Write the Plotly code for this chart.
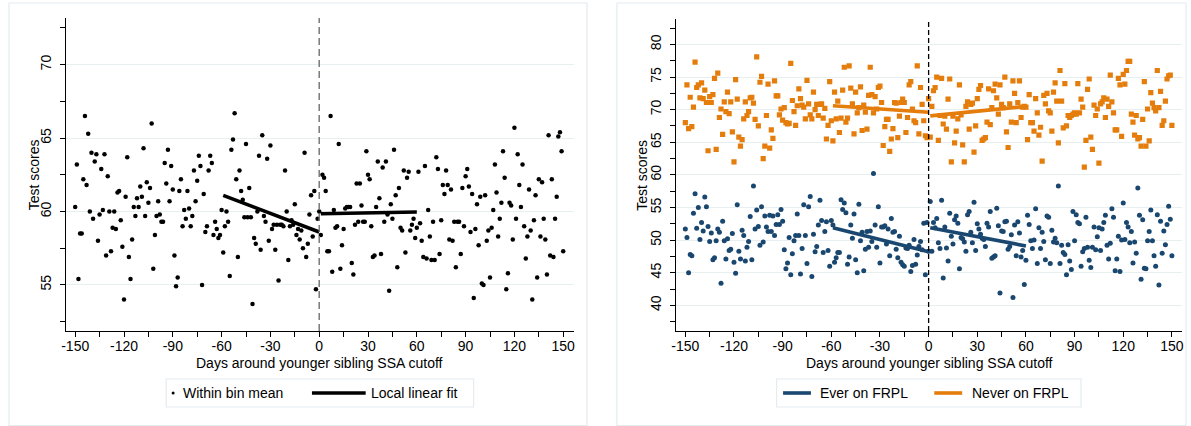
import plotly.graph_objects as go

W, H = 1191, 426
FONT = "Liberation Sans, Arial, Helvetica, sans-serif"
BLUE = "#1a476f"
ORANGE = "#e47d0b"
GRID = "#e8eff1"
FRAME = "#e4ecef"

# Bins: days relative to the younger sibling's SSA cutoff
days = list(range(-150, 151))

# All students: within-bin mean test score (days -150 .. 150)
bin_mean = [
    60.3, 63.2, 55.4, 58.5, 58.5, 62.2, 66.5, 61.8, 65.3, 60.0,
    64.0, 59.5, 63.4, 63.9, 58.0, 59.8, 62.9, 60.1, 63.9, 57.0,
    62.4, 60.0, 57.3, 58.9, 60.0, 58.8, 61.3, 61.4, 59.4, 57.6,
    54.0, 61.0, 63.7, 56.9, 55.4, 58.1, 60.3, 59.7, 60.9, 60.3,
    61.7, 61.0, 64.3, 59.7, 62.0, 60.6, 61.6, 66.0, 56.1, 58.4,
    59.7, 60.7, 59.8, 59.3, 59.3, 63.3, 61.9, 64.2, 60.7, 63.1,
    61.5, 57.0, 54.9, 55.5, 61.4, 62.2, 59.0, 60.1, 59.5, 61.4,
    60.2, 59.0, 59.7, 62.8, 60.7, 62.1, 63.8, 63.1, 55.0, 61.2,
    58.6, 59.0, 62.8, 63.8, 63.3, 58.4, 59.3, 58.8, 58.2, 58.4,
    60.1, 57.2, 59.0, 60.0, 59.3, 55.6, 64.2, 64.9, 66.7, 62.2,
    56.9, 62.8, 61.4, 60.8, 59.6, 64.6, 59.6, 61.6, 59.6, 53.7,
    58.2, 57.8, 60.0, 63.8, 57.4, 65.2, 59.7, 59.3, 63.6, 58.0,
    64.5, 58.8, 59.1, 57.4, 59.1, 55.3, 59.1, 59.1, 59.0, 62.8,
    60.0, 56.7, 59.0, 59.4, 59.1, 60.5, 58.4, 58.8, 58.1, 58.7,
    57.5, 64.0, 56.9, 57.8, 59.8, 61.1, 58.3, 61.4, 54.7, 59.5,
    60.0, 58.4, 62.5, 62.3, 61.4, 57.3, 57.3, 66.5, 55.9, 60.1,
    58.9, 59.0, 64.6, 56.1, 57.7, 58.8, 60.2, 60.3, 60.3, 60.3,
    56.5, 55.7, 59.1, 61.9, 59.3, 61.9, 60.4, 59.3, 59.3, 64.1,
    62.5, 62.2, 59.0, 56.9, 57.0, 60.3, 63.4, 60.9, 57.1, 63.0,
    59.3, 63.4, 59.8, 54.6, 60.5, 59.5, 64.2, 61.1, 56.2, 61.6,
    58.9, 58.7, 62.8, 57.2, 62.3, 62.7, 58.7, 59.1, 59.5, 58.2,
    58.9, 62.7, 59.2, 58.0, 56.9, 63.1, 56.8, 60.1, 58.3, 56.7,
    59.3, 56.7, 63.7, 62.9, 57.1, 59.4, 61.8, 61.2, 62.8, 61.8,
    58.1, 61.5, 58.0, 59.3, 56.2, 59.3, 59.3, 57.1, 61.6, 59.0,
    62.4, 62.9, 61.7, 58.6, 61.2, 54.1, 58.8, 60.5, 57.7, 61.0,
    55.1, 55.0, 61.1, 58.0, 58.7, 55.5, 58.9, 60.1, 63.2, 61.3,
    58.3, 59.5, 60.6, 64.1, 62.3, 54.7, 55.8, 60.6, 60.4, 58.1,
    65.7, 59.5, 63.9, 61.8, 60.3, 63.2, 59.0, 56.8, 58.3, 61.5,
    58.7, 54.0, 59.4, 61.1, 55.5, 62.2, 58.3, 62.0, 59.5, 58.1,
    55.7, 65.2, 57.0, 62.2, 56.9, 59.5, 61.0, 65.1, 65.4, 64.1,
    57.3,
]

# Ever on FRPL: within-bin mean test score
ever_frpl = [
    51.7, 50.4, 45.0, 47.8, 47.6, 54.1, 57.1, 51.8, 55.0, 50.1,
    52.7, 51.4, 56.6, 55.1, 52.1, 49.8, 51.1, 47.0, 47.3, 49.9,
    51.7, 51.2, 43.4, 52.9, 49.9, 47.1, 50.2, 48.4, 48.6, 51.0,
    46.6, 44.9, 55.4, 48.3, 47.1, 51.5, 50.7, 46.8, 48.9, 49.8,
    53.6, 47.0, 58.3, 51.7, 54.6, 52.1, 49.2, 55.1, 49.7, 53.7,
    52.0, 51.3, 53.8, 51.3, 53.7, 50.7, 52.4, 53.9, 52.4, 54.7,
    52.9, 48.5, 45.6, 46.5, 50.4, 44.7, 47.9, 49.9, 50.7, 54.0,
    50.7, 44.8, 48.7, 55.4, 50.7, 46.4, 55.1, 56.7, 44.4, 50.9,
    48.2, 49.0, 52.3, 56.1, 53.0, 48.1, 51.3, 52.8, 48.4, 46.0,
    53.0, 52.3, 46.6, 47.3, 48.1, 48.1, 56.2, 54.7, 55.7, 54.2,
    46.3, 47.4, 52.3, 50.3, 54.0, 47.0, 45.0, 55.5, 49.9, 51.2,
    45.3, 48.6, 51.3, 48.9, 51.4, 49.8, 60.2, 52.3, 48.9, 55.1,
    46.5, 52.0, 52.0, 52.2, 49.4, 51.7, 47.6, 53.3, 51.2, 51.3,
    48.6, 47.3, 50.6, 46.6, 46.2, 46.0, 48.8, 48.7, 49.2, 45.2,
    46.1, 50.1, 46.3, 47.7, 49.0, 49.8, 48.5, 52.6, 44.7, 52.7,
    48.3,
    55.9, 48.3, 52.7, 51.9, 53.3, 49.6, 48.7, 56.1, 44.2, 52.0,
    48.8, 46.8, 54.1, 50.6, 49.4, 53.1, 53.7, 52.6, 45.6, 50.4,
    50.2, 49.7, 48.3, 53.9, 54.4, 51.2, 49.6, 55.8, 48.4, 52.5,
    51.7, 50.9, 50.3, 50.1, 49.0, 52.6, 52.0, 54.4, 47.2, 47.4,
    47.6, 54.9, 52.2, 41.9, 51.4, 51.3, 52.8, 52.9, 48.6, 49.0,
    50.8, 41.2, 52.3, 47.6, 52.8, 51.1, 47.4, 48.4, 43.2, 46.9,
    53.8, 52.4, 49.9, 48.7, 50.0, 54.8, 46.4, 51.9, 48.7, 51.2,
    49.8, 47.0, 53.7, 53.5, 46.4, 51.5, 49.7, 50.3, 49.6, 58.3,
    46.4, 49.2, 48.1, 47.8, 44.7, 49.3, 46.8, 45.5, 54.4, 49.9,
    53.9, 52.7, 52.5, 46.0, 48.2, 48.7, 53.5, 48.9, 46.9, 45.8,
    48.9, 52.0, 48.5, 50.5, 51.9, 48.4, 51.7, 52.7, 53.8, 49.2,
    47.1, 49.5, 54.8, 53.5, 45.3, 47.1, 50.6, 45.2, 50.0, 55.7,
    50.1, 52.7, 52.0, 49.6, 51.3, 46.5, 49.7, 48.0, 58.0, 53.8,
    44.0, 53.1, 45.7, 45.6, 49.9, 51.3, 54.6, 49.9, 47.6, 46.0,
    53.9, 43.1, 52.9, 48.0, 51.4, 49.3, 52.4, 55.2, 53.2, 47.6,
]

# Never on FRPL: within-bin mean test score
never_frpl = [
    68.0, 73.8, 67.1, 71.9, 67.4, 70.4, 77.3, 73.4, 73.8, 71.8,
    74.1, 71.7, 73.0, 71.1, 63.7, 72.0, 71.1, 72.3, 74.8, 63.9,
    75.6, 68.8, 70.1, 66.2, 71.2, 69.7, 72.7, 69.4, 71.2, 66.6,
    62.0, 74.6, 71.6, 65.8, 64.4, 65.4, 68.6, 71.2, 69.1, 69.7,
    71.8, 71.9, 71.0, 68.5, 78.1, 67.5, 74.2, 75.1, 62.5, 64.4,
    69.1, 73.9, 64.1, 66.9, 65.6, 74.4, 72.1, 72.1, 69.2, 70.1,
    68.4, 70.3, 68.0, 67.8, 67.9, 77.1, 71.4, 69.7, 67.6, 70.6,
    73.2, 71.7, 70.7, 70.4, 68.6, 74.5, 70.9, 69.2, 68.6, 72.7,
    70.0, 70.8, 69.1, 70.8, 70.9, 68.7, 70.2, 65.5, 67.6, 74.3,
    68.3, 65.2, 72.7, 68.6, 71.3, 66.5, 68.7, 73.0, 76.5, 68.1,
    68.7, 76.7, 73.3, 70.9, 66.3, 72.7, 69.5, 70.3, 73.5, 66.8,
    70.7, 69.6, 67.0, 72.2, 76.5, 72.3, 69.5, 72.0, 70.1, 73.4,
    73.6, 71.1, 64.5, 67.4, 68.5, 68.5, 63.6, 65.5, 67.1, 71.1,
    71.0, 65.7, 69.0, 71.1, 71.6, 71.1, 66.5, 68.8, 73.8, 74.3,
    70.1, 68.3, 68.0, 76.7, 66.3, 73.4, 70.8, 68.3, 66.0, 65.7,
    71.7,
    65.8, 70.5, 72.9, 73.4, 75.0, 65.3, 69.1, 74.8, 67.8, 69.0,
    67.0, 71.6, 74.7, 62.0, 69.0, 64.9, 66.7, 68.6, 73.8, 69.2,
    64.6, 62.0, 70.5, 71.2, 67.0, 70.8, 71.0, 63.5, 67.5, 71.7,
    73.1, 73.7, 65.3, 65.5, 65.7, 68.1, 73.2, 67.7, 70.3, 72.9,
    73.9, 71.8, 69.3, 73.8, 70.8, 70.3, 75.0, 66.6, 64.2, 70.9,
    68.1, 74.4, 72.5, 68.0, 71.1, 74.4, 68.8, 70.4, 70.5, 70.4,
    65.4, 72.3, 68.0, 68.0, 66.7, 71.7, 69.5, 66.1, 67.3, 62.1,
    72.2, 70.9, 72.5, 69.8, 69.5, 66.7, 72.7, 74.1, 71.3, 64.9,
    76.0, 71.3, 67.2, 74.0, 67.5, 69.1, 68.8, 69.1, 69.3, 69.5,
    69.3, 74.0, 69.5, 71.6, 70.4, 61.2, 65.3, 73.1, 74.7, 65.8,
    63.9, 70.7, 69.1, 70.1, 61.8, 70.9, 71.2, 71.8, 68.8, 71.6,
    70.5, 75.3, 71.2, 69.5, 66.9, 66.9, 74.8, 73.8, 65.9, 75.4,
    73.9, 76.0, 77.4, 77.4, 69.3, 68.1, 66.1, 69.1, 65.5, 65.7,
    64.4, 68.5, 74.3, 64.4, 70.1, 65.2, 72.6, 71.0, 70.3, 69.8,
    76.0, 70.3, 72.8, 67.6, 68.3, 71.3, 74.7, 75.2, 75.3, 67.6,
]

# Local linear fits on each side of the cutoff (60-day bandwidth)
fit_days_pre = [-59, 0]
fit_days_post = [1, 60]
fit_all_pre = [61.1, 58.6]
fit_all_post = [59.85, 59.97]
fit_ever_pre = [51.9, 48.2]
fit_ever_post = [51.9, 49.1]
fit_never_pre = [70.6, 69.6]
fit_never_post = [69.05, 70.5]

x_ticks = [-150, -120, -90, -60, -30, 0, 30, 60, 90, 120, 150]


def fx(p):
    return p / W


def fy(p):
    return 1 - p / H


fig = go.Figure()

# Left panel: all students
fig.add_trace(go.Scatter(x=days, y=bin_mean, mode="markers", xaxis="x", yaxis="y",
                         marker=dict(color="black", size=4.5), showlegend=False,
                         hoverinfo="x+y"))
for xs, ys in ((fit_days_pre, fit_all_pre), (fit_days_post, fit_all_post)):
    fig.add_trace(go.Scatter(x=xs, y=ys, mode="lines", xaxis="x", yaxis="y",
                             line=dict(color="black", width=3.6), showlegend=False))

# Right panel: by FRPL status
fig.add_trace(go.Scatter(x=days, y=never_frpl, mode="markers", xaxis="x2", yaxis="y2",
                         marker=dict(color=ORANGE, size=5.2, symbol="square"),
                         showlegend=False))
fig.add_trace(go.Scatter(x=days, y=ever_frpl, mode="markers", xaxis="x2", yaxis="y2",
                         marker=dict(color=BLUE, size=5), showlegend=False))
for xs, ys, c in ((fit_days_pre, fit_ever_pre, BLUE), (fit_days_post, fit_ever_post, BLUE),
                  (fit_days_pre, fit_never_pre, ORANGE), (fit_days_post, fit_never_post, ORANGE)):
    fig.add_trace(go.Scatter(x=xs, y=ys, mode="lines", xaxis="x2", yaxis="y2",
                             line=dict(color=c, width=3.6), showlegend=False))

tickfont = dict(family=FONT, size=14, color="black")
minor_x = dict(dtick=15, tick0=0, ticks="outside", ticklen=5, tickcolor="black",
               tickwidth=1, showgrid=False)
minor_y = dict(dtick=2.5, tick0=0, ticks="outside", ticklen=5, tickcolor="black",
               tickwidth=1, showgrid=False)


def xaxis_cfg(domain, rng, anchor):
    return dict(domain=domain, range=rng, anchor=anchor, tickmode="array",
                tickvals=x_ticks, ticktext=[str(v) for v in x_ticks],
                ticks="outside", ticklen=5, tickwidth=1, tickcolor="black",
                ticklabelstandoff=-3,
                showline=True, linecolor="black", linewidth=1.2, showgrid=False,
                zeroline=False, tickfont=tickfont, minor=minor_x)


def yaxis_cfg(domain, rng, anchor):
    return dict(domain=domain, range=rng, anchor=anchor, tickmode="linear",
                tick0=0, dtick=5, ticks="outside", ticklen=5, tickwidth=1,
                tickcolor="black", showline=True, linecolor="black", linewidth=1.2,
                ticklabelstandoff=3,
                showgrid=True, gridcolor=GRID, gridwidth=1.2, zeroline=False,
                tickangle=-90, tickfont=tickfont, minor=minor_y)


fig.update_layout(
    width=W, height=H, margin=dict(l=0, r=0, t=0, b=0),
    paper_bgcolor="white", plot_bgcolor="white",
    font=dict(family=FONT, size=14, color="black"),
    xaxis=xaxis_cfg([fx(61.4), fx(571.5)], [-155.6, 156.4], "y"),
    yaxis=yaxis_cfg([fy(331), fy(18)], [51.86, 73.18], "x"),
    xaxis2=xaxis_cfg([fx(674), fx(1183.4)], [-156.0, 156.5], "y2"),
    yaxis2=yaxis_cfg([fy(331), fy(19)], [36.06, 83.9], "x2"),
)

shapes = []
annotations = []

# Panel frames
for x0, x1 in ((4, 585), (615, 1187)):
    shapes.append(dict(type="rect", xref="paper", yref="paper", x0=fx(x0), x1=fx(x1),
                       y0=fy(425.5), y1=fy(3), line=dict(color=FRAME, width=1.2),
                       layer="below"))

# Cutoff lines
shapes.append(dict(type="line", xref="x", yref="y domain", x0=0, x1=0, y0=0, y1=1,
                   line=dict(color="#707070", width=1.4, dash="7px,4px")))
shapes.append(dict(type="line", xref="x2", yref="y2 domain", x0=0, x1=0, y0=0, y1=1,
                   line=dict(color="black", width=1.3, dash="5px,3px")))

# Axis titles
for cx in (316.5, 928.7):
    annotations.append(dict(text="Days around younger sibling SSA cutoff", xref="paper",
                            yref="paper", x=fx(cx), y=fy(363), showarrow=False,
                            xanchor="center", yanchor="middle",
                            font=dict(family=FONT, size=14, color="black")))
for cx, cy in ((29, 174.5), (640, 175)):
    annotations.append(dict(text="Test scores", xref="paper", yref="paper", x=fx(cx),
                            y=fy(cy), showarrow=False, textangle=-90, xanchor="center",
                            yanchor="middle", font=dict(family=FONT, size=14, color="black")))

# Legends
LEG_Y = 393
for x0, x1 in ((162, 471), (775.5, 1081.5)):
    shapes.append(dict(type="rect", xref="paper", yref="paper", x0=fx(x0), x1=fx(x1),
                       y0=fy(407), y1=fy(379), line=dict(color=FRAME, width=1.2)))

shapes.append(dict(type="circle", xref="paper", yref="paper", x0=fx(167.5), x1=fx(170.5),
                   y0=fy(394.5), y1=fy(391.5), fillcolor="black", line=dict(width=0)))
annotations.append(dict(text="Within bin mean", xref="paper", yref="paper", x=fx(177),
                        y=fy(LEG_Y), xanchor="left", yanchor="middle", showarrow=False,
                        font=dict(family=FONT, size=14, color="black")))
shapes.append(dict(type="line", xref="paper", yref="paper", x0=fx(308.5), x1=fx(362.5),
                   y0=fy(LEG_Y), y1=fy(LEG_Y), line=dict(color="black", width=3.6)))
annotations.append(dict(text="Local linear fit", xref="paper", yref="paper", x=fx(366),
                        y=fy(LEG_Y), xanchor="left", yanchor="middle", showarrow=False,
                        font=dict(family=FONT, size=14, color="black")))

shapes.append(dict(type="line", xref="paper", yref="paper", x0=fx(782), x1=fx(810),
                   y0=fy(LEG_Y), y1=fy(LEG_Y), line=dict(color=BLUE, width=3.6)))
annotations.append(dict(text="Ever on FRPL", xref="paper", yref="paper", x=fx(817),
                        y=fy(LEG_Y), xanchor="left", yanchor="middle", showarrow=False,
                        font=dict(family=FONT, size=14, color="black")))
shapes.append(dict(type="line", xref="paper", yref="paper", x0=fx(934), x1=fx(962),
                   y0=fy(LEG_Y), y1=fy(LEG_Y), line=dict(color=ORANGE, width=3.6)))
annotations.append(dict(text="Never on FRPL", xref="paper", yref="paper", x=fx(969.5),
                        y=fy(LEG_Y), xanchor="left", yanchor="middle", showarrow=False,
                        font=dict(family=FONT, size=14, color="black")))

fig.update_layout(shapes=shapes, annotations=annotations)
fig.write_html("out.html")
